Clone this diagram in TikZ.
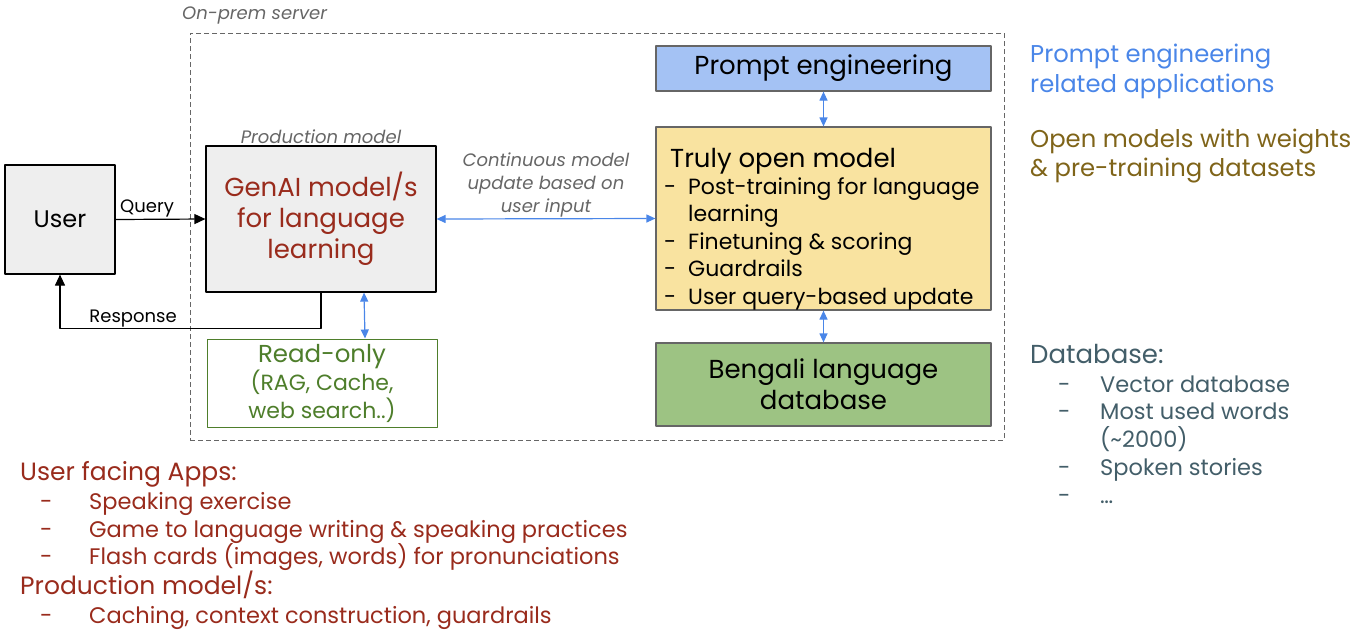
\documentclass[tikz,border=0pt]{standalone}
\usepackage{fontspec}
\setmainfont{Poppins}
\usetikzlibrary{arrows.meta,positioning}
\definecolor{boxgray}{HTML}{EEEEEE}
\definecolor{appred}{HTML}{992B1C}
\definecolor{rogreen}{HTML}{4E7E2B}
\definecolor{syncblue}{HTML}{4A86E8}
\definecolor{promptfill}{HTML}{A4C2F4}
\definecolor{trulyfill}{HTML}{F9E3A0}
\definecolor{bengalifill}{HTML}{9DC383}
\definecolor{olive}{HTML}{7F6419}
\definecolor{dbslate}{HTML}{435E69}
\definecolor{labelgray}{HTML}{666666}
\newcommand{\bigf}{\fontsize{26}{31}\selectfont}
\newcommand{\midf}{\fontsize{22}{28}\selectfont}
\newcommand{\listf}{\fontsize{22.5}{28}\selectfont}
\newcommand{\headf}{\fontsize{25}{29}\selectfont}
\newcommand{\smallf}{\fontsize{18}{23}\selectfont}
\tikzset{
  box/.style={draw=black, line width=1.2pt, fill=boxgray, inner sep=0pt, align=center},
  tier/.style={draw=labelgray, line width=1.2pt, inner sep=0pt, align=center},
  frame/.style={draw=labelgray, line width=1pt, dash pattern=on 5pt off 3pt, inner sep=0pt},
  note/.style={text=labelgray, font=\smallf\itshape, inner sep=1pt, align=center},
  txt/.style={inner sep=0pt, anchor=base west, align=left},
  link/.style={line width=1.2pt, -{Triangle[length=11pt,width=10pt]}},
  sync/.style={draw=syncblue, line width=1.2pt, {Triangle[length=9pt,width=8pt]}-{Triangle[length=9pt,width=8pt]}},
}
\begin{document}
\begin{tikzpicture}[x=1pt, y=-1pt, line join=round]
\useasboundingbox (0,0) rectangle (1355,638);
% server frame
\node[frame, minimum width=814, minimum height=407] (server) at (597,236.5) {};
\node[note, anchor=west] (serverlbl) at (181,15) {On-prem server};
% left part
\node[box, minimum width=110, minimum height=109, font=\fontsize{24}{31}\selectfont] (user) at (60,219.5) {User};
\node[box, minimum width=230, minimum height=146, text=appred, font=\bigf] (genai) at (321,219) {GenAI model/s\\for language\\learning};
\node[note, above=1pt of genai] (prodlbl) {Production model};
\node[tier, draw=rogreen, line width=1pt, fill=white, text=rogreen, minimum width=230, minimum height=88, font=\midf] (readonly) at (322,383)
  {{\fontsize{24.5}{28}\selectfont Read-only}\\(RAG, Cache,\\web search..)};
% right part
\node[tier, fill=promptfill, minimum width=335, minimum height=45, font=\bigf] (prompt) at (823.5,68.5) {Prompt engineering};
\node[tier, fill=trulyfill, minimum width=335, minimum height=183] (truly) at (823.5,218.5) {};
\node[tier, fill=bengalifill, minimum width=335, minimum height=83, font=\bigf] (bengali) at (823.5,384.5) {Bengali language\\database};
\node[txt, font=\bigf] (trulytitle) at (670,167) {Truly open model};
\foreach \yy/\t [count=\i] in {194.5/Post-training for language, 249.5/Finetuning \& scoring, 276.5/Guardrails, 304.5/User query-based update}{
  \node[txt, font=\midf] (tdash\i) at (664,\yy) {-};
  \node[txt, font=\midf] (titem\i) at (688,\yy) {\t};
}
\node[txt, font=\midf] (titem1b) at (688,221.5) {learning};
% connectors
\draw[link] (user.east) -- (genai.west) node[pos=0.35, above, inner sep=2pt, font=\smallf] (querylbl) {Query};
\draw[link] (genai.south) -- ++(0,36) -| (user.south) node[pos=0.36, above, inner sep=1pt, font=\smallf] (resplbl) {Response};
\draw[sync] ([xshift=43]genai.south) -- ([xshift=43]readonly.north);
\draw[sync] (genai.east) -- (truly.west) node[midway, above, note, inner sep=1pt] (contlbl) {Continuous model\\update based on\\user input};
\draw[sync] (prompt.south) -- (truly.north);
\draw[sync] (truly.south) -- (bengali.north);
% side notes
\node[txt, anchor=west, text=syncblue, font=\fontsize{24.3}{30}\selectfont] (promptnote) at (1030,71) {Prompt engineering\\related applications};
\node[txt, anchor=west, text=olive, font=\fontsize{24.3}{29}\selectfont] (opennote) at (1030,156.5) {Open models with weights\\\& pre-training datasets};
\node[txt, text=dbslate, font=\fontsize{26}{29}\selectfont] (dbhead) at (1030,363) {Database:};
\foreach \yy/\t [count=\i] in {392/Vector database, 419/Most used words, 475/Spoken stories, 503/\dots}{
  \node[txt, text=dbslate, font=\listf] (dbdash\i) at (1058,\yy) {-};
  \node[txt, text=dbslate, font=\listf] (dbitem\i) at (1100,\yy) {\t};
}
\node[txt, text=dbslate, font=\listf] (dbitem2b) at (1100,447) {(\char`\~2000)};
% apps list
\node[txt, text=appred, font=\headf] (appshead) at (20,480) {User facing Apps:};
\foreach \yy/\t [count=\i] in {509/Speaking exercise, 537/Game to language writing \& speaking practices, 564/{Flash cards (images, words) for pronunciations}}{
  \node[txt, text=appred, font=\listf] (appdash\i) at (40,\yy) {-};
  \node[txt, text=appred, font=\listf] (app\i) at (89,\yy) {\t};
}
\node[txt, text=appred, font=\headf] (prodhead) at (20,594) {Production model/s:};
\node[txt, text=appred, font=\listf] (proddash) at (40,623) {-};
\node[txt, text=appred, font=\listf] (proditem) at (89,623) {Caching, context construction, guardrails};
\end{tikzpicture}
\end{document}
